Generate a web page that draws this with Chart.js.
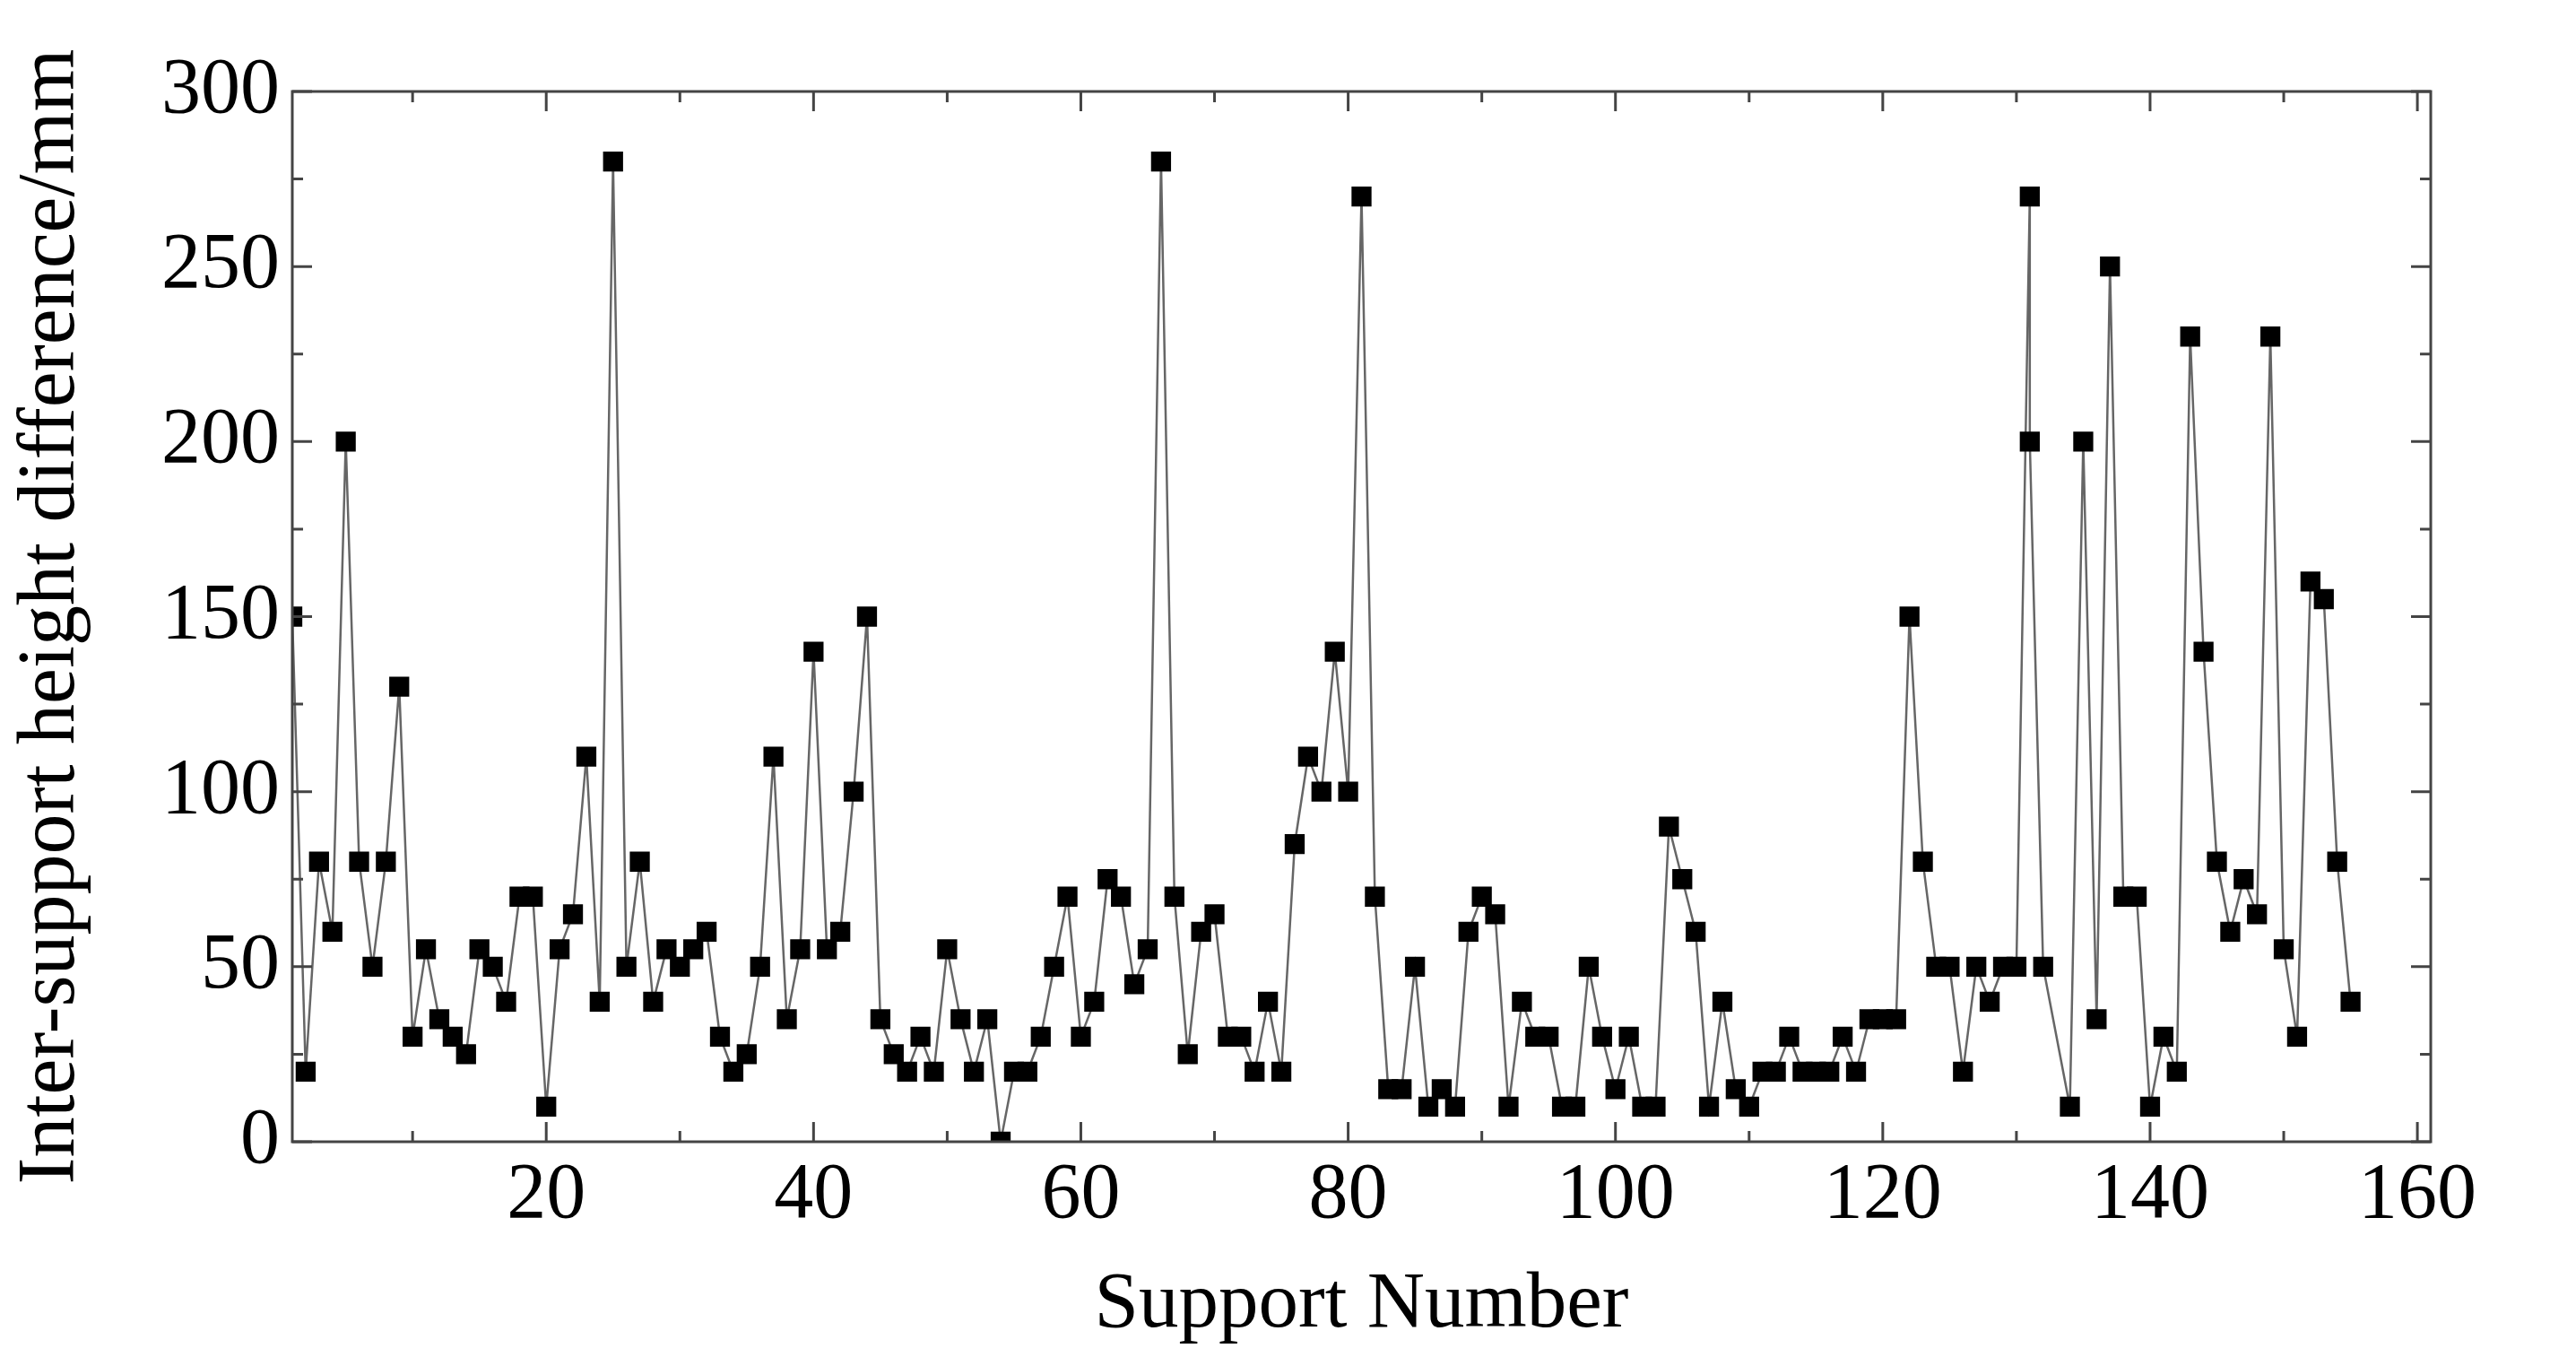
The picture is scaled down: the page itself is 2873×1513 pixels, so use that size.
<!DOCTYPE html>
<html>
<head>
<script src="https://cdn.jsdelivr.net/npm/chart.js@4/dist/chart.umd.min.js"></script>
<style>
body { margin:0; background:#fff; }
canvas { display:block; }
</style>
</head>
<body>
<canvas id="myChart" width="2873" height="1513"></canvas>
<script>
var supports = [1,2,3,4,5,6,7,8,9,10,11,12,13,14,15,16,17,18,19,20,
  21,22,23,24,25,26,27,28,29,30,31,32,33,34,35,36,37,38,39,40,
  41,42,43,44,45,46,47,48,49,50,51,52,53,54,55,56,57,58,59,60,
  61,62,63,64,65,66,67,68,69,70,71,72,73,74,75,76,77,78,79,80,
  81,82,83,84,85,86,87,88,89,90,91,92,93,94,95,96,97,98,99,100,
  101,102,103,104,105,106,107,108,109,110,111,112,113,114,115,116,117,118,119,120,
  121,122,123,124,125,126,127,128,129,130,131,131,132,134,135,136,137,138,139,140,
  141,142,143,144,145,146,147,148,149,150,151,152,153,154,155];
var heights = [150,20,80,60,200,80,50,80,130,30,55,35,30,25,55,50,40,70,70,10,
  55,65,110,40,280,50,80,40,55,50,55,60,30,20,25,50,110,35,55,140,
  55,60,100,150,35,25,20,30,20,55,35,20,35,0,20,20,30,50,70,30,
  40,75,70,45,55,280,70,25,60,65,30,30,20,40,20,85,110,100,140,100,
  270,70,15,15,50,10,15,10,60,70,65,10,40,30,30,10,10,50,30,15,
  30,10,10,90,75,60,10,40,15,10,20,20,30,20,20,20,30,20,35,35,
  35,150,80,50,50,20,50,40,50,50,270,200,50,10,200,35,250,70,70,10,
  30,20,230,140,80,60,75,65,230,55,30,160,155,80,40];
var yTicks = [0,50,100,150,200,250,300];
var xTicks = [20,40,60,80,100,120,140,160];

var points = supports.map((s,i) => ({x:s, y:heights[i]}));

// inward ticks on all four sides, major and minor
var frameTicks = {
  id:'frameTicks',
  afterDraw(chart) {
    var c = chart.ctx, a = chart.chartArea, xs = chart.scales.x, ys = chart.scales.y;
    c.save();
    c.strokeStyle = '#444';
    c.lineWidth = 3;
    c.strokeRect(a.left, a.top, a.right-a.left, a.bottom-a.top);
    c.beginPath();
    for (var v=0; v<=300; v+=25) {
      var y = ys.getPixelForValue(v), L = v%50==0 ? 22 : 12;
      c.moveTo(a.left,y); c.lineTo(a.left+L,y);
      c.moveTo(a.right,y); c.lineTo(a.right-L,y);
    }
    for (var v=10; v<=160; v+=10) {
      var x = xs.getPixelForValue(v), L = v%20==0 ? 22 : 12;
      c.moveTo(x,a.bottom); c.lineTo(x,a.bottom-L);
      c.moveTo(x,a.top); c.lineTo(x,a.top+L);
    }
    c.stroke();
    c.restore();
  }
};

new Chart(document.getElementById('myChart').getContext('2d'), {
  type:'line',
  data:{ datasets:[{
    data:points,
    borderColor:'#666',
    borderWidth:2.5,
    pointStyle:'rect',
    pointRadius:14,
    pointBackgroundColor:'#000',
    pointBorderColor:'#000',
    tension:0
  }]},
  options:{
    responsive:false,
    animation:false,
    layout:{padding:{top:102,right:162,left:0,bottom:0}},
    plugins:{legend:{display:false}, tooltip:{enabled:false}},
    scales:{
      x:{
        type:'linear', min:1, max:161,
        afterBuildTicks(s){ s.ticks = xTicks.map(v=>({value:v})); },
        afterFit(s){ s.height = 240; },
        grid:{display:false, drawTicks:false},
        border:{display:false},
        ticks:{color:'#000', padding:8, font:{family:'Liberation Serif', size:88}},
        title:{display:true, text:'Support Number', color:'#000', padding:{top:0}, font:{family:'Liberation Serif', size:89}}
      },
      y:{
        min:0, max:300,
        afterBuildTicks(s){ s.ticks = yTicks.map(v=>({value:v})); },
        afterFit(s){ s.width = 326; },
        grid:{display:false, drawTicks:false},
        border:{display:false},
        ticks:{color:'#000', padding:14, font:{family:'Liberation Serif', size:88}},
        title:{display:true, text:'Inter-support height difference/mm', color:'#000', padding:{bottom:0}, font:{family:'Liberation Serif', size:90}}
      }
    }
  },
  plugins:[frameTicks]
});
</script>
</body>
</html>
